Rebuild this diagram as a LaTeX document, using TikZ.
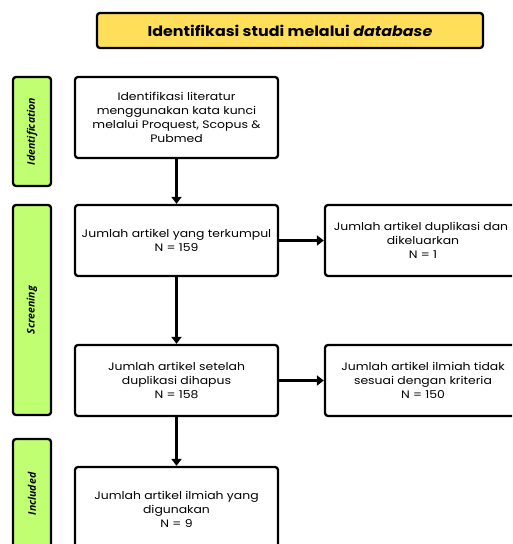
\documentclass[tikz,border=0pt]{standalone}
\usepackage{fontspec}
\setmainfont{Poppins}
\newfontfamily\boxfont[FakeStretch=1.15]{Poppins}
\newfontfamily\titlefont[FakeStretch=1.12]{Poppins}
\newfontfamily\sidefont{Open Sans}
\usetikzlibrary{arrows.meta}
\definecolor{titleyellow}{HTML}{FFDE59}
\definecolor{sidegreen}{HTML}{C1FF72}
\begin{document}
\begin{tikzpicture}[x=1pt,y=-1pt,
  box/.style={draw=black, line width=2.3pt, rounded corners=3pt, fill=white, align=center,
    font=\boxfont\fontsize{10.8}{14}\selectfont, inner sep=2pt},
  side/.style={draw=black, line width=2.3pt, rounded corners=3pt, fill=sidegreen,
    minimum width=38pt},
  sidelabel/.style={rotate=90, font=\sidefont\bfseries\itshape\fontsize{10.5}{12}\selectfont},
  arr/.style={line width=2.3pt, -{Triangle[length=7pt,width=10pt]}}
]
\clip (0,0) rectangle (512,544);
\fill[white] (0,0) rectangle (512,544);
% title
\node[draw=black, line width=2.3pt, rounded corners=3pt, fill=titleyellow,
  minimum width=386pt, minimum height=35pt, font=\titlefont\fontsize{14.2}{16}\selectfont\bfseries]
  (title) at (290,30.5) {Identifikasi studi melalui \textit{database}};
% side bars
\node[side, minimum height=109pt] (s1) at (32,131.5) {};
\node[sidelabel] (l1) at (s1.center) {Identification};
\node[side, minimum height=210pt] (s2) at (32,310) {};
\node[sidelabel] (l2) at (s2.center) {Screening};
\node[side, minimum height=120pt] (s3) at (32,499) {};
\node[sidelabel] (l3) at (32,494) {Included};
% boxes
\node[box, minimum width=203pt, minimum height=81pt] (b1) at (176.5,117.5)
  {Identifikasi literatur\\menggunakan kata kunci\\melalui Proquest, Scopus \&\\Pubmed};
\node[box, minimum width=203pt, minimum height=71pt] (b2) at (176.5,240.5)
  {Jumlah artikel yang terkumpul\\N = 159};
\node[box, minimum width=196pt, minimum height=71pt] (b3) at (423,240.5)
  {\hspace*{-4pt}Jumlah artikel duplikasi dan\\dikeluarkan\\N = 1};
\node[box, minimum width=203pt, minimum height=71pt] (b4) at (176.5,380.5)
  {Jumlah artikel setelah\\duplikasi dihapus\\N = 158};
\node[box, minimum width=196pt, minimum height=71pt] (b5) at (423,380.5)
  {Jumlah artikel ilmiah tidak\\sesuai dengan kriteria\\N = 150};
\node[box, minimum width=203pt, minimum height=84pt] (b6) at (176.5,509)
  {Jumlah artikel ilmiah yang\\digunakan\\N = 9};
% arrows
\draw[arr] (b1.south) -- (b2.north);
\draw[arr] (b2.south) -- (b4.north);
\draw[arr] (b4.south) -- (b6.north);
\draw[arr] (b2.east) -- (b3.west);
\draw[arr] (b4.east) -- (b5.west);
\end{tikzpicture}
\end{document}
